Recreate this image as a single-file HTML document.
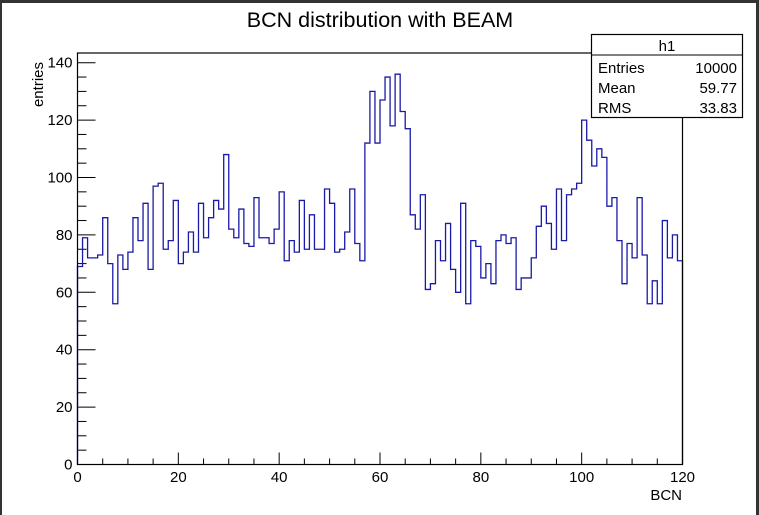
<!DOCTYPE html>
<html><head><meta charset="utf-8"><style>
html,body{margin:0;padding:0;background:#fff;}
svg{display:block;font-family:"Liberation Sans",Arial,sans-serif;}
</style></head><body>
<svg id="chart" width="759" height="515" viewBox="0 0 759 515" xmlns="http://www.w3.org/2000/svg">
<rect x="0" y="0" width="759" height="515" fill="#fff"/>
<rect x="0" y="0" width="759" height="3" fill="#333"/>
<rect x="0" y="0" width="2" height="515" fill="#333"/>
<rect x="756" y="0" width="3" height="515" fill="#333"/>
<text x="380" y="27" font-size="21.5" text-anchor="middle" fill="#000">BCN distribution with BEAM</text>
<g id="axes"></g>
<path id="hist" fill="none" stroke="#1a1aa8" stroke-width="1.3"/>
<rect x="77.5" y="53" width="605" height="411.5" fill="none" stroke="#000" stroke-width="1.2"/>
<g>
<rect x="591.5" y="34.5" width="151" height="83" fill="#fff" stroke="#000" stroke-width="1.2"/>
<line x1="591.5" y1="55" x2="742.5" y2="55" stroke="#000" stroke-width="1"/>
<text x="667" y="51" font-size="15" text-anchor="middle">h1</text>
<text x="598" y="73" font-size="15">Entries</text>
<text x="737" y="73" font-size="15" text-anchor="end">10000</text>
<text x="598" y="93" font-size="15">Mean</text>
<text x="737" y="93" font-size="15" text-anchor="end">59.77</text>
<text x="598" y="113" font-size="15">RMS</text>
<text x="737" y="113" font-size="15" text-anchor="end">33.83</text>
</g>
<text x="682" y="500" font-size="15" text-anchor="end">BCN</text>
<text transform="translate(43,62) rotate(-90)" font-size="15" text-anchor="end">entries</text>
</svg>
<script>
const binValues = [69,79,72,72,73,86,70,56,73,68,74,86,78,91,68,97,98,75,78,92,
70,74,81,74,91,79,86,92,89,108,82,79,89,77,76,93,79,79,77,82,
95,71,78,74,92,75,87,75,75,96,91,74,75,81,96,77,71,112,130,112,
127,135,118,136,123,117,87,82,94,61,63,78,71,84,68,60,91,56,78,76,
65,70,63,78,80,77,79,61,65,65,72,83,90,84,75,96,78,94,96,98,
120,113,104,110,107,90,93,78,63,77,72,93,73,56,64,56,85,72,80,71];
const xTickLabels = ["0","20","40","60","80","100","120"];
const yTickLabels = ["0","20","40","60","80","100","120","140"];
const xMin = 0, xMax = 120, yMin = 0, yMax = 140;

const L = 77.5, R = 682.5, T = 53, B = 464.5, Y140 = 62.7;
function sx(v){ return L + (v - xMin) / (xMax - xMin) * (R - L); }
function sy(v){ return B - (v - yMin) / (yMax - yMin) * (B - Y140); }

const NS = "http://www.w3.org/2000/svg";
const hist = document.getElementById('hist');
const bw = (xMax - xMin) / binValues.length;
let d = "M" + sx(xMin) + "," + sy(0);
binValues.forEach((v, i) => {
  d += " L" + sx(xMin + i * bw) + "," + sy(v) + " L" + sx(xMin + (i + 1) * bw) + "," + sy(v);
});
d += " L" + sx(xMax) + "," + sy(0);
hist.setAttribute('d', d);

const axes = document.getElementById('axes');
function line(x1, y1, x2, y2, name){
  const l = document.createElementNS(NS, 'line');
  l.setAttribute('x1', x1); l.setAttribute('y1', y1); l.setAttribute('x2', x2); l.setAttribute('y2', y2);
  l.setAttribute('stroke', '#000'); l.setAttribute('stroke-width', '1');
  
  
  axes.appendChild(l);
}
function label(x, y, txt, anchor, name){
  const t = document.createElementNS(NS, 'text');
  t.setAttribute('x', x); t.setAttribute('y', y); t.setAttribute('font-size', '15');
  t.setAttribute('text-anchor', anchor); t.textContent = txt;
  
  
  axes.appendChild(t);
}
// x ticks
for (let v = xMin; v <= xMax; v += 5) {
  const major = v % 20 === 0;
  line(sx(v), B, sx(v), B - (major ? 12 : 6), major ? 'x-major-tick' : 'x-minor-tick');
}
xTickLabels.forEach(s => {
  const v = parseFloat(s);
  label(sx(v), 482, s, 'middle', 'x-tick-label');
});
// y ticks
for (let v = yMin; v <= yMax; v += 5) {
  const major = v % 20 === 0;
  line(L, sy(v), L + (major ? 18 : 9), sy(v), major ? 'y-major-tick' : 'y-minor-tick');
}
yTickLabels.forEach(s => {
  const v = parseFloat(s);
  label(L - 5, sy(v) + 5, s, 'end', 'y-tick-label');
});
</script>
</body></html>
